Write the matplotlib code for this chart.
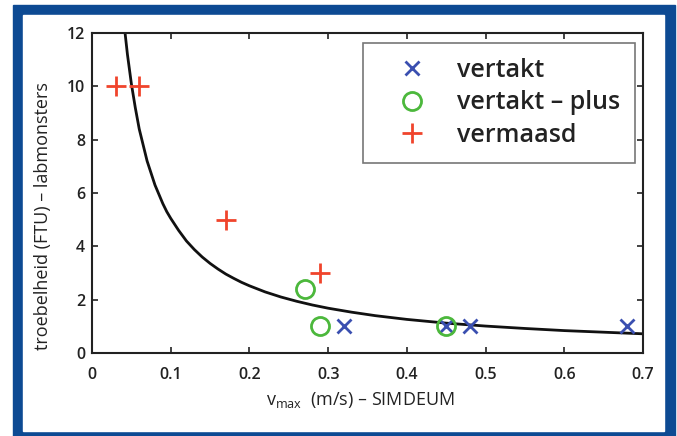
import matplotlib.pyplot as plt
from matplotlib.patches import Rectangle

plt.rcParams['font.family'] = ['Open Sans', 'DejaVu Sans']

# measurements
vertakt_x = [0.32, 0.45, 0.48, 0.68]
vertakt_y = [1.0, 1.0, 1.0, 1.0]
plus_x = [0.27, 0.29, 0.45]
plus_y = [2.4, 1.0, 1.0]
vermaasd_x = [0.03, 0.06, 0.17, 0.29]
vermaasd_y = [10, 10, 5, 3]

# fitted curve
curve_x = [0.042, 0.045, 0.05, 0.055, 0.06, 0.065, 0.07, 0.075, 0.08, 0.085,
           0.09, 0.095, 0.10, 0.11, 0.12, 0.13, 0.14, 0.15, 0.16, 0.17, 0.18,
           0.19, 0.20, 0.22, 0.24, 0.26, 0.28, 0.30, 0.33, 0.36, 0.40, 0.45,
           0.50, 0.55, 0.60, 0.65, 0.70]
curve_y = [12.0, 11.2, 10.1, 9.2, 8.4, 7.8, 7.2, 6.75, 6.3, 5.95,
           5.6, 5.3, 5.05, 4.6, 4.2, 3.88, 3.6, 3.36, 3.15, 2.96, 2.8,
           2.65, 2.52, 2.29, 2.1, 1.94, 1.8, 1.68, 1.53, 1.4, 1.26, 1.12,
           1.01, 0.92, 0.84, 0.78, 0.72]

x_ticks = [0, 0.1, 0.2, 0.3, 0.4, 0.5, 0.6, 0.7]
x_ticklabels = ['0', '0.1', '0.2', '0.3', '0.4', '0.5', '0.6', '0.7']
y_ticks = [0, 2, 4, 6, 8, 10, 12]

fig = plt.figure(figsize=(6.77, 4.36), dpi=100)
W, H = 677, 436
# blue frame
fig.patches.append(Rectangle((13 / W, 0), (675 - 13) / W, (436 - 5) / H,
                             transform=fig.transFigure, color='#0d4a93', zorder=-10))
fig.patches.append(Rectangle((23 / W, (436 - 431) / H), (664 - 23) / W, (431 - 15) / H,
                             transform=fig.transFigure, color='white', zorder=-9))

ax = fig.add_axes([92 / W, 1 - 353 / H, (643 - 92) / W, (353 - 33) / H])
ax.set_facecolor('white')

ax.plot(curve_x, curve_y, color='#111111', lw=2, zorder=2)
ax.plot(vertakt_x, vertakt_y, 'x', color='#3a4fb0', ms=10, mew=2,
        label='vertakt', zorder=3, clip_on=False)
ax.plot(plus_x, plus_y, 'o', mfc='none', mec='#4cb83c', ms=13, mew=2,
        label='vertakt \u2013 plus', zorder=3)
ax.plot(vermaasd_x, vermaasd_y, '+', color='#f0442c', ms=14, mew=2,
        label='vermaasd', zorder=3)

ax.set_xlim(0, 0.7)
ax.set_ylim(0, 12)
ax.set_xticks(x_ticks)
ax.set_xticklabels(x_ticklabels)
ax.set_yticks(y_ticks)
ax.tick_params(direction='in', top=True, right=True, length=4, width=1.2,
               labelsize=11.5, colors='#222222')
ax.tick_params(axis='x', pad=10)
ax.tick_params(axis='y', pad=5)
for lab in ax.get_xticklabels() + ax.get_yticklabels():
    lab.set_fontweight('semibold')
for s in ax.spines.values():
    s.set_linewidth(1.5)
    s.set_color('#222222')

fig.text(360 / W, 1 - 400 / H, 'v$_{\\mathregular{max}}$  (m/s) \u2013 SIMDEUM',
         fontsize=13, color='#222222', ha='center', va='center')
fig.text(43 / W, 1 - 216 / H, 'troebelheid (FTU) \u2013 labmonsters',
         fontsize=13, color='#222222', ha='center', va='center', rotation=90)

leg = ax.legend(loc='upper right', bbox_to_anchor=(0.985, 0.969),
                prop={'size': 18, 'weight': 'semibold'},
                frameon=True, fancybox=False, edgecolor='#555555',
                borderpad=0.6, labelspacing=0.3, handletextpad=0.45,
                borderaxespad=0, handlelength=2.7)
leg.get_frame().set_linewidth(1.2)
for t in leg.get_texts():
    t.set_color('#222222')

fig.savefig('out.png', dpi=100)
